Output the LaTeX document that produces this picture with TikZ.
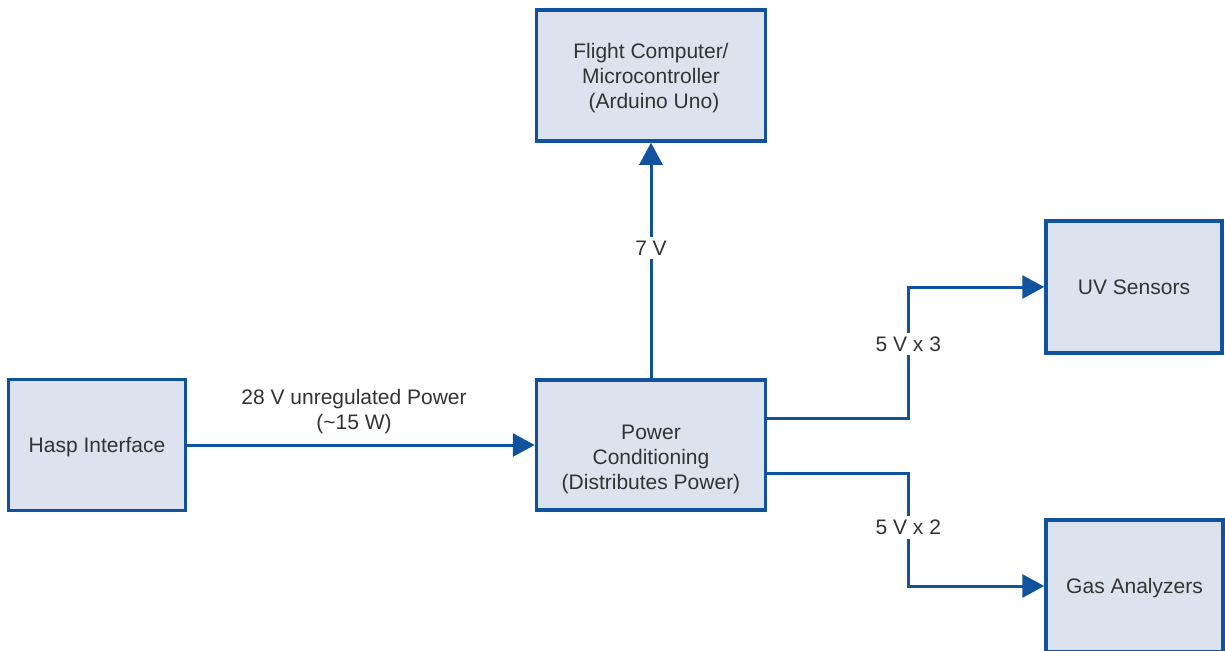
\documentclass[tikz,border=0pt]{standalone}
\usepackage{fontspec}
\setmainfont{Liberation Sans}
\usetikzlibrary{arrows.meta,calc}

\definecolor{edgeblue}{RGB}{16,82,158}
\definecolor{boxfill}{RGB}{220,227,238}
\definecolor{txtgray}{RGB}{51,51,51}

\tikzset{
  block/.style={draw=edgeblue, fill=boxfill, line width=3.5pt, inner sep=0pt},
  btext/.style={text=txtgray, font=\fontsize{21}{25}\selectfont, align=center,
    inner sep=0pt},
  conn/.style={draw=edgeblue, line width=3pt,
    -{Triangle[length=22pt,width=23pt]}},
  lbl/.style={fill=white, text=txtgray, font=\fontsize{21}{25}\selectfont,
    align=center, inner sep=4pt}
}

\begin{document}
\begin{tikzpicture}[x=1pt, y=-1pt]
  \useasboundingbox (0,0) rectangle (1225,650);

  % blocks (caption set as a centred label, lowered where needed)
  \node[block, minimum width=177pt, minimum height=131pt,
    label={[btext, yshift=-2pt]center:Hasp Interface}] (hasp) at (97,445) {};
  \node[block, minimum width=229pt, minimum height=130pt,
    label={[btext, yshift=-14pt]center:{Power\\Conditioning\\(Distributes Power)}}]
    (power) at (651,445) {};
  \node[block, minimum width=229pt, minimum height=131pt,
    label={[btext, yshift=-3pt]center:{Flight Computer/\\Microcontroller\\\ (Arduino Uno)}}]
    (fc) at (651,75.5) {};
  \node[block, minimum width=176pt, minimum height=132pt,
    label={[btext]center:UV Sensors}] (uv) at (1134,287) {};
  \node[block, minimum width=177pt, minimum height=132pt,
    label={[btext, yshift=-2pt]center:Gas Analyzers}] (gas) at (1134.5,586) {};

  % supply lines
  \draw[conn] (hasp.east) -- node[lbl, pos=0.48, yshift=33pt]
    {28 V unregulated Power\\(\textasciitilde15 W)} (power.west);

  \draw[conn] (power.north) -- node[lbl, pos=0.552] {7 V} (fc.south);

  \draw[conn] ([yshift=27pt]power.east) -- ++(141,0) coordinate (j1)
    -- node[lbl, pos=0.565] {5 V x 3} (j1 |- uv.west) -- (uv.west);

  \draw[conn] ([yshift=-28pt]power.east) -- ++(141,0) coordinate (j2)
    -- node[lbl, pos=0.48] {5 V x 2} (j2 |- gas.west) -- (gas.west);
\end{tikzpicture}
\end{document}
